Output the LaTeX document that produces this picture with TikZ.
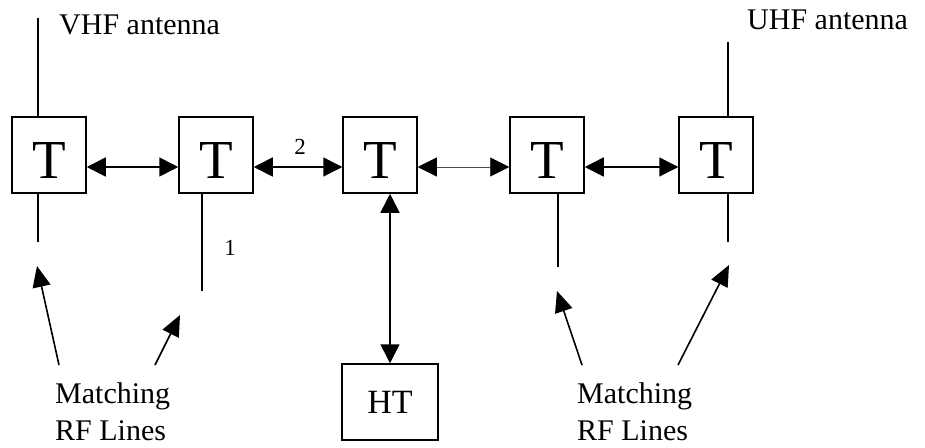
\documentclass[tikz,border=0pt]{standalone}
\usepackage{fontspec}
\setmainfont{Liberation Serif}
\usetikzlibrary{arrows.meta}
\begin{document}
\begin{tikzpicture}[x=1pt,y=-1pt,
  tbox/.style={draw,line width=1.5pt,minimum width=74pt,minimum height=76pt,inner sep=0pt,text height=46pt,text depth=0pt,font=\fontsize{55}{60}\selectfont},
  htbox/.style={draw,line width=1.5pt,minimum width=96pt,minimum height=76pt,inner sep=0pt,font=\fontsize{34}{40}\selectfont},
  wire/.style={line width=1.2pt},
  biarrow/.style={line width=1.6pt,{Triangle[length=19pt,width=19pt]}-{Triangle[length=19pt,width=19pt]}},
  thinbiarrow/.style={line width=0.9pt,draw=black!70,{Triangle[length=19pt,width=19pt,color=black]}-{Triangle[length=19pt,width=19pt,color=black]}},
  pointer/.style={line width=1.6pt,-{Triangle[length=21pt,width=18pt]}},
  lbl/.style={font=\fontsize{30}{37}\selectfont,inner sep=0pt},
  small/.style={font=\fontsize{23}{27}\selectfont,inner sep=0pt}]
\useasboundingbox (0,0) rectangle (925,447);

% transformer row
\node[tbox] (t1) at (49,155) {T};
\node[tbox] (t2) at (216,155) {T};
\node[tbox] (t3) at (380,155) {T};
\node[tbox] (t4) at (547,155) {T};
\node[tbox] (t5) at (716,155) {T};
\node[htbox] (ht) at (390,402) {HT};

% links between neighbouring stages
\draw[biarrow] ([yshift=-12pt]t1.east) -- ([yshift=-12pt]t2.west);
\draw[biarrow] ([yshift=-12pt]t2.east) -- ([yshift=-12pt]t3.west);
\draw[thinbiarrow] ([yshift=-12pt]t3.east) -- ([yshift=-12pt]t4.west);
\draw[biarrow] ([yshift=-12pt]t4.east) -- ([yshift=-12pt]t5.west);
\draw[biarrow] (ht.north |- t3.south) -- (ht.north);

% antennas
\coordinate (vhftop) at (38,18);
\coordinate (uhftop) at (728,42);
\draw[wire] (vhftop |- t1.north) -- (vhftop);
\draw[wire] (uhftop |- t5.north) -- (uhftop);
\node[lbl,anchor=west] (vhf) at (59,25) {VHF antenna};
\node[lbl,anchor=west] (uhf) at (747,20) {UHF antenna};

% matching RF line stubs
\coordinate (s1) at (38,242);
\coordinate (s2) at (202,291);
\coordinate (s4) at (558,267);
\coordinate (s5) at (728,242);
\draw[wire] (s1 |- t1.south) -- (s1);
\draw[wire] (s2 |- t2.south) -- (s2);
\draw[wire] (s4 |- t4.south) -- (s4);
\draw[wire] (s5 |- t5.south) -- (s5);
\node[small] (one) at (230,248) {1};
\node[small] (two) at (300,147) {2};

% annotations
\node[lbl,anchor=north west,align=left] (mleft) at (55,382) {Matching\\RF Lines};
\node[lbl,anchor=north west,align=left] (mright) at (577,382) {Matching\\RF Lines};
\coordinate (p1a) at (59,365);
\coordinate (p1b) at (37,266);
\coordinate (p2a) at (155,365);
\coordinate (p2b) at (180,315);
\coordinate (p3a) at (582,365);
\coordinate (p3b) at (557,291);
\coordinate (p4a) at (678,365);
\coordinate (p4b) at (729,265);
\draw[pointer] (p1a) -- (p1b);
\draw[pointer] (p2a) -- (p2b);
\draw[pointer] (p3a) -- (p3b);
\draw[pointer] (p4a) -- (p4b);
\end{tikzpicture}
\end{document}
